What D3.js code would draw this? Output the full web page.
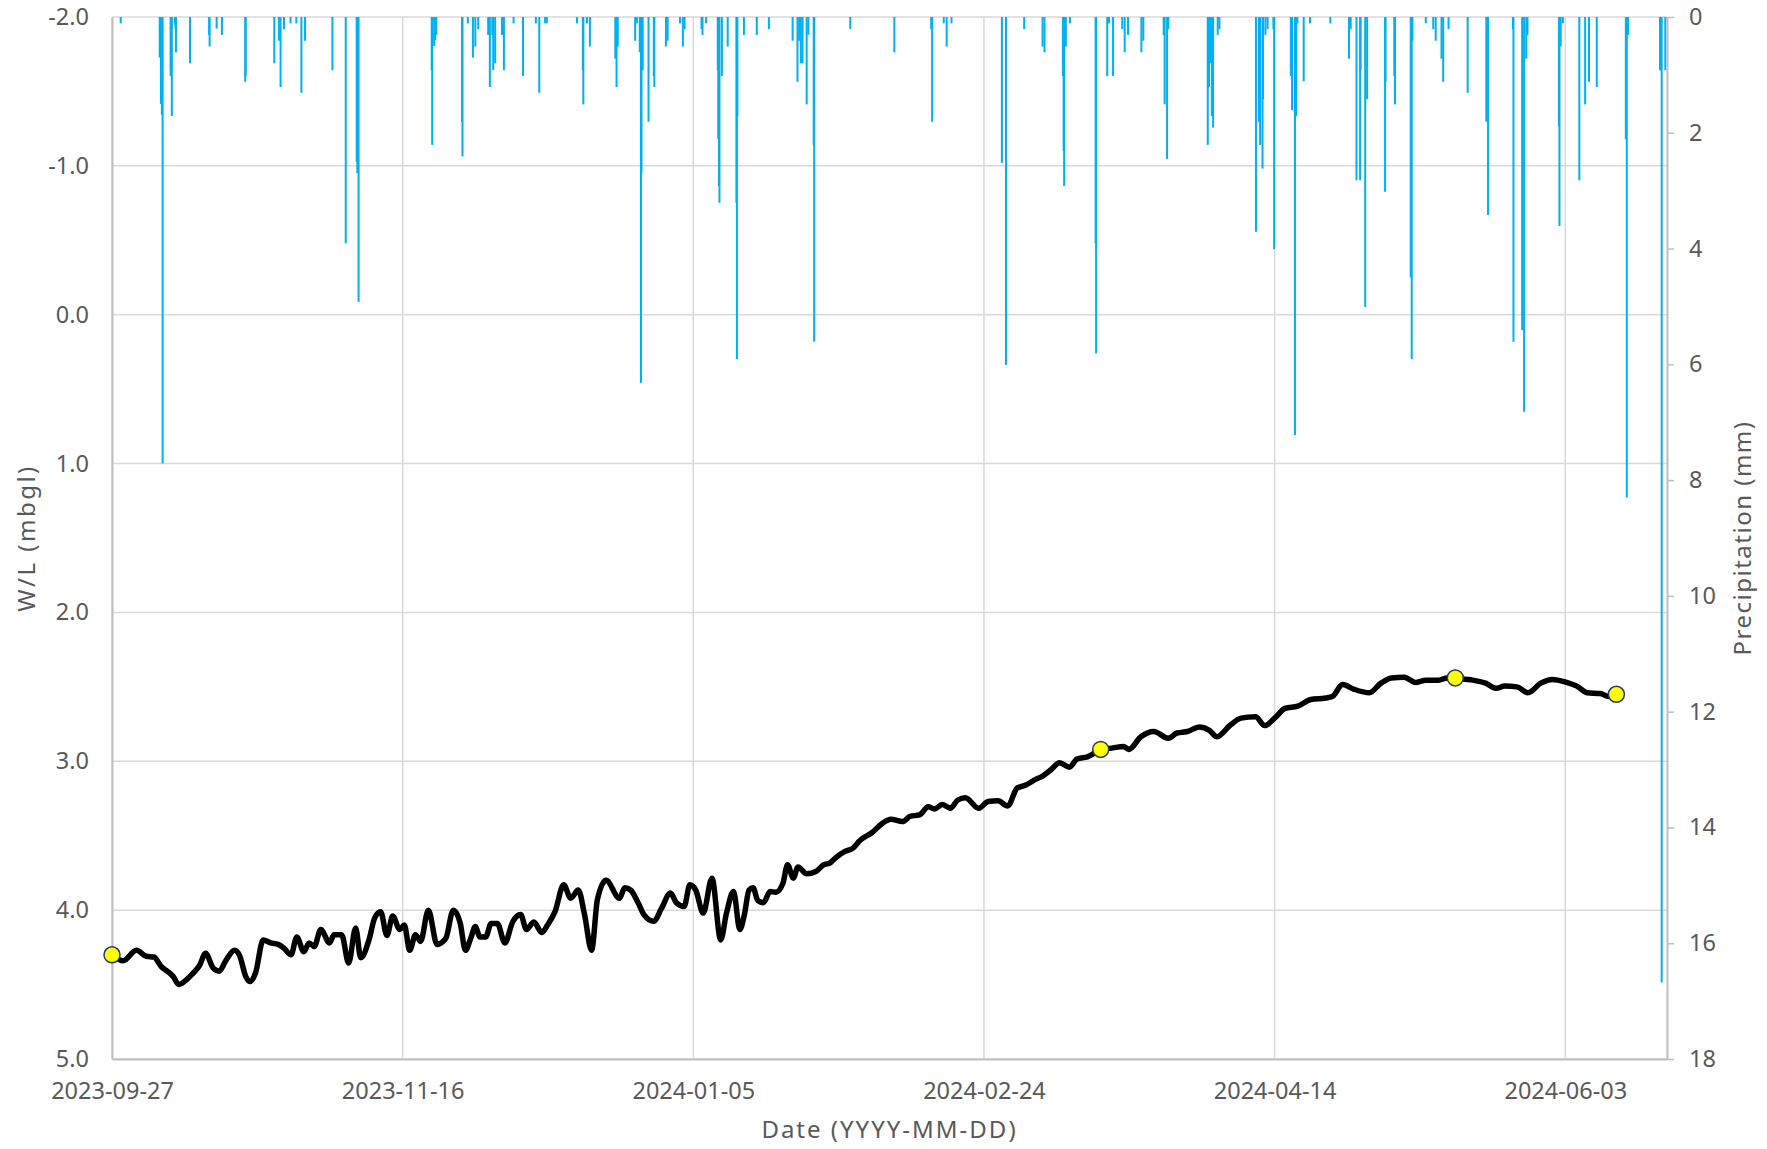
<!DOCTYPE html>
<html>
  <head>
    <meta charset="utf-8">
    <script src="https://cdnjs.cloudflare.com/ajax/libs/d3/7.8.5/d3.min.js"></script>
    <style>
      body { margin: 0; background: #fff; }
      text { font-family: "Noto Sans", sans-serif; fill: #595959; }
    </style>
  </head>
  <body>
    <div id="vis"></div>
    <script type="text/javascript">

        // water level logger (mbgl), sampled off the trace
        const waterLevel = [
          ["2023-09-27T00", 4.30], ["2023-09-28T22", 4.34], ["2023-10-01T05", 4.27], ["2023-10-02T22", 4.31],
          ["2023-10-04T05", 4.315], ["2023-10-05T12", 4.38], ["2023-10-06T12", 4.41], ["2023-10-07T12", 4.445],
          ["2023-10-08T12", 4.50], ["2023-10-09T02", 4.49], ["2023-10-10T19", 4.43], ["2023-10-12T02", 4.37],
          ["2023-10-13T02", 4.29], ["2023-10-14T10", 4.39], ["2023-10-15T10", 4.41], ["2023-10-16T17", 4.33],
          ["2023-10-18T02", 4.27], ["2023-10-19T00", 4.31], ["2023-10-20T00", 4.445], ["2023-10-20T19", 4.48],
          ["2023-10-21T17", 4.42], ["2023-10-23T00", 4.20], ["2023-10-24T07", 4.22], ["2023-10-25T14", 4.23],
          ["2023-10-26T14", 4.255], ["2023-10-27T19", 4.30], ["2023-10-28T19", 4.18], ["2023-10-30T00", 4.28],
          ["2023-10-30T22", 4.22], ["2023-10-31T19", 4.245], ["2023-11-01T22", 4.13], ["2023-11-03T10", 4.22],
          ["2023-11-04T05", 4.165], ["2023-11-05T12", 4.165], ["2023-11-06T17", 4.355], ["2023-11-07T22", 4.12],
          ["2023-11-08T19", 4.32], ["2023-11-10T05", 4.20], ["2023-11-11T05", 4.05], ["2023-11-12T05", 4.01],
          ["2023-11-13T07", 4.17], ["2023-11-14T07", 4.04], ["2023-11-15T12", 4.13], ["2023-11-16T07", 4.10],
          ["2023-11-17T05", 4.27], ["2023-11-18T05", 4.165], ["2023-11-19T02", 4.21], ["2023-11-20T10", 4.00],
          ["2023-11-21T22", 4.23], ["2023-11-23T10", 4.19], ["2023-11-24T17", 4.00], ["2023-11-25T22", 4.09],
          ["2023-11-26T19", 4.27], ["2023-11-27T17", 4.19], ["2023-11-28T12", 4.11], ["2023-11-29T07", 4.18],
          ["2023-11-30T07", 4.18], ["2023-12-01T05", 4.09], ["2023-12-02T07", 4.09], ["2023-12-03T14", 4.22],
          ["2023-12-04T22", 4.08], ["2023-12-06T07", 4.03], ["2023-12-07T07", 4.13], ["2023-12-08T14", 4.08],
          ["2023-12-09T22", 4.15], ["2023-12-10T22", 4.10], ["2023-12-12T05", 4.01], ["2023-12-13T17", 3.83],
          ["2023-12-14T22", 3.92], ["2023-12-16T05", 3.865], ["2023-12-17T07", 4.03], ["2023-12-18T12", 4.27],
          ["2023-12-19T12", 3.93], ["2023-12-21T00", 3.80], ["2023-12-23T07", 3.92], ["2023-12-24T05", 3.85],
          ["2023-12-25T05", 3.865], ["2023-12-26T12", 3.95], ["2023-12-27T12", 4.03], ["2023-12-29T05", 4.075],
          ["2023-12-30T12", 3.99], ["2024-01-01T02", 3.885], ["2024-01-02T02", 3.95], ["2024-01-03T10", 3.975],
          ["2024-01-04T10", 3.83], ["2024-01-05T10", 3.865], ["2024-01-06T17", 4.02], ["2024-01-08T05", 3.785],
          ["2024-01-09T17", 4.20], ["2024-01-10T17", 4.02], ["2024-01-11T22", 3.875], ["2024-01-13T00", 4.13],
          ["2024-01-13T19", 4.03], ["2024-01-14T14", 3.865], ["2024-01-15T07", 3.85], ["2024-01-16T02", 3.935],
          ["2024-01-17T02", 3.95], ["2024-01-18T05", 3.875], ["2024-01-19T05", 3.88], ["2024-01-20T10", 3.82],
          ["2024-01-21T05", 3.695], ["2024-01-22T05", 3.785], ["2024-01-23T00", 3.71], ["2024-01-24T12", 3.755],
          ["2024-01-26T02", 3.74], ["2024-01-27T10", 3.695], ["2024-01-28T10", 3.685], ["2024-01-29T10", 3.65],
          ["2024-01-31T02", 3.605], ["2024-02-01T10", 3.585], ["2024-02-02T17", 3.53], ["2024-02-04T17", 3.48],
          ["2024-02-06T14", 3.415], ["2024-02-08T00", 3.39], ["2024-02-10T00", 3.405], ["2024-02-11T07", 3.37],
          ["2024-02-12T22", 3.36], ["2024-02-14T10", 3.305], ["2024-02-15T12", 3.32], ["2024-02-16T19", 3.29],
          ["2024-02-18T05", 3.315], ["2024-02-19T12", 3.26], ["2024-02-20T19", 3.245], ["2024-02-23T02", 3.315],
          ["2024-02-24T17", 3.27], ["2024-02-26T10", 3.265], ["2024-02-28T02", 3.30], ["2024-02-29T17", 3.18],
          ["2024-03-02T05", 3.16], ["2024-03-03T17", 3.125], ["2024-03-05T02", 3.10], ["2024-03-06T14", 3.055],
          ["2024-03-08T00", 3.01], ["2024-03-09T17", 3.04], ["2024-03-11T00", 2.985], ["2024-03-12T19", 2.97],
          ["2024-03-15T02", 2.925], ["2024-03-17T05", 2.91], ["2024-03-19T00", 2.90], ["2024-03-19T22", 2.92],
          ["2024-03-22T00", 2.835], ["2024-03-24T05", 2.80], ["2024-03-26T17", 2.845], ["2024-03-28T05", 2.81],
          ["2024-03-30T00", 2.80], ["2024-04-01T02", 2.77], ["2024-04-02T17", 2.79], ["2024-04-04T02", 2.835],
          ["2024-04-06T07", 2.76], ["2024-04-08T05", 2.71], ["2024-04-10T17", 2.70], ["2024-04-12T07", 2.76],
          ["2024-04-14T00", 2.71], ["2024-04-15T19", 2.645], ["2024-04-18T00", 2.63], ["2024-04-20T05", 2.585],
          ["2024-04-22T19", 2.575], ["2024-04-23T22", 2.565], ["2024-04-25T17", 2.485], ["2024-04-27T14", 2.515],
          ["2024-04-30T07", 2.54], ["2024-05-02T07", 2.475], ["2024-05-04T02", 2.44], ["2024-05-06T07", 2.435],
          ["2024-05-08T05", 2.47], ["2024-05-10T00", 2.455], ["2024-05-12T05", 2.455], ["2024-05-13T17", 2.44],
          ["2024-05-15T02", 2.445], ["2024-05-18T02", 2.455], ["2024-05-20T07", 2.475], ["2024-05-22T02", 2.51],
          ["2024-05-23T14", 2.495], ["2024-05-25T17", 2.50], ["2024-05-27T14", 2.54], ["2024-05-29T19", 2.475],
          ["2024-05-31T19", 2.45], ["2024-06-03T05", 2.47], ["2024-06-05T00", 2.495], ["2024-06-06T19", 2.54],
          ["2024-06-09T00", 2.545], ["2024-06-10T12", 2.565], ["2024-06-11T19", 2.55]
        ];

        // manual dip readings
        const manualDips = [
          ["2023-09-27T00", 4.30], ["2024-03-15T02", 2.92], ["2024-05-15T02", 2.44], ["2024-06-11T19", 2.55]
        ];

        // hourly rainfall (mm)
        const rainfall = [
          ["2023-09-28T12", 0.11], ["2023-10-05T05", 0.70], ["2023-10-05T10", 1.50], ["2023-10-05T14", 1.69],
          ["2023-10-05T17", 7.71], ["2023-10-07T02", 1.02], ["2023-10-07T07", 1.71], ["2023-10-07T19", 0.11],
          ["2023-10-07T22", 0.20], ["2023-10-08T00", 0.61], ["2023-10-10T10", 0.80], ["2023-10-13T17", 0.31],
          ["2023-10-13T19", 0.51], ["2023-10-15T00", 0.20], ["2023-10-15T22", 0.31], ["2023-10-19T22", 1.12],
          ["2023-10-20T00", 1.02], ["2023-10-24T22", 0.80], ["2023-10-25T17", 0.41], ["2023-10-26T00", 1.21],
          ["2023-10-26T14", 0.21], ["2023-10-27T17", 0.11], ["2023-10-28T17", 0.11], ["2023-10-29T14", 1.31],
          ["2023-10-30T05", 0.41], ["2023-11-03T22", 0.92], ["2023-11-06T05", 3.91], ["2023-11-08T02", 2.50],
          ["2023-11-08T05", 2.70], ["2023-11-08T10", 4.92], ["2023-11-21T00", 0.92], ["2023-11-21T02", 2.21],
          ["2023-11-21T10", 0.50], ["2023-11-21T14", 0.40], ["2023-11-21T19", 0.31], ["2023-11-26T05", 1.81],
          ["2023-11-26T07", 2.41], ["2023-11-27T05", 0.11], ["2023-11-28T02", 0.70], ["2023-11-28T12", 0.51],
          ["2023-11-29T00", 0.21], ["2023-11-30T17", 0.31], ["2023-12-01T00", 1.21], ["2023-12-01T10", 0.31],
          ["2023-12-01T14", 0.92], ["2023-12-01T22", 0.80], ["2023-12-03T02", 0.31], ["2023-12-03T10", 0.92],
          ["2023-12-05T02", 0.11], ["2023-12-06T17", 1.02], ["2023-12-08T22", 0.11], ["2023-12-09T12", 1.31],
          ["2023-12-10T12", 0.11], ["2023-12-10T19", 0.11], ["2023-12-16T00", 0.11], ["2023-12-17T00", 0.92],
          ["2023-12-17T02", 1.51], ["2023-12-17T17", 0.11], ["2023-12-18T05", 0.51], ["2023-12-22T14", 0.72],
          ["2023-12-22T19", 1.21], ["2023-12-23T00", 0.51], ["2023-12-26T00", 0.41], ["2023-12-26T07", 0.11],
          ["2023-12-26T19", 0.61], ["2023-12-27T00", 6.32], ["2023-12-27T02", 2.70], ["2023-12-27T07", 0.92],
          ["2023-12-28T07", 1.81], ["2023-12-29T05", 1.02], ["2023-12-29T07", 1.21], ["2023-12-31T07", 0.51],
          ["2023-12-31T14", 0.41], ["2024-01-02T17", 0.11], ["2024-01-03T05", 0.51], ["2024-01-03T12", 0.21],
          ["2024-01-06T10", 0.21], ["2024-01-06T14", 0.31], ["2024-01-07T05", 0.11], ["2024-01-09T05", 0.92],
          ["2024-01-09T07", 2.11], ["2024-01-09T10", 2.92], ["2024-01-09T12", 3.21], ["2024-01-09T22", 1.02],
          ["2024-01-10T22", 0.51], ["2024-01-12T10", 3.21], ["2024-01-12T12", 5.91], ["2024-01-12T14", 1.71],
          ["2024-01-13T17", 0.31], ["2024-01-15T22", 0.31], ["2024-01-18T00", 0.21], ["2024-01-22T02", 0.41],
          ["2024-01-22T22", 1.12], ["2024-01-23T05", 0.41], ["2024-01-23T12", 0.80], ["2024-01-23T19", 0.80],
          ["2024-01-24T12", 1.51], ["2024-01-24T19", 0.31], ["2024-01-25T17", 2.21], ["2024-01-25T19", 5.61],
          ["2024-02-01T00", 0.21], ["2024-02-08T14", 0.61], ["2024-02-14T22", 0.21], ["2024-02-15T02", 1.81],
          ["2024-02-17T02", 0.11], ["2024-02-17T14", 0.51], ["2024-02-18T10", 0.11], ["2024-02-27T02", 2.52],
          ["2024-02-27T19", 6.01], ["2024-03-01T22", 0.21], ["2024-03-05T02", 0.51], ["2024-03-05T10", 0.61],
          ["2024-03-08T14", 1.02], ["2024-03-08T17", 2.31], ["2024-03-08T19", 2.92], ["2024-03-09T02", 0.51],
          ["2024-03-09T19", 0.11], ["2024-03-14T05", 3.91], ["2024-03-14T07", 5.81], ["2024-03-16T05", 1.02],
          ["2024-03-16T12", 0.11], ["2024-03-17T05", 1.02], ["2024-03-18T19", 0.21], ["2024-03-19T05", 0.61],
          ["2024-03-19T19", 0.31], ["2024-03-22T02", 0.61], ["2024-03-22T10", 0.41], ["2024-03-25T22", 0.31],
          ["2024-03-26T02", 1.51], ["2024-03-26T12", 2.45], ["2024-03-26T17", 0.21], ["2024-04-02T12", 2.21],
          ["2024-04-02T17", 1.21], ["2024-04-02T22", 0.80], ["2024-04-03T05", 1.71], ["2024-04-03T10", 1.91],
          ["2024-04-04T05", 0.31], ["2024-04-04T12", 0.21], ["2024-04-10T19", 3.71], ["2024-04-11T07", 1.81],
          ["2024-04-11T12", 2.21], ["2024-04-11T22", 2.62], ["2024-04-12T00", 1.42], ["2024-04-12T10", 0.31],
          ["2024-04-12T19", 0.21], ["2024-04-13T19", 0.21], ["2024-04-13T22", 4.01], ["2024-04-16T19", 1.02],
          ["2024-04-17T00", 1.61], ["2024-04-17T12", 7.22], ["2024-04-17T17", 1.71], ["2024-04-17T22", 0.11],
          ["2024-04-19T00", 1.11], ["2024-04-20T02", 0.11], ["2024-04-23T14", 0.11], ["2024-04-26T19", 0.72],
          ["2024-04-27T02", 0.21], ["2024-04-28T02", 2.82], ["2024-04-28T17", 2.82], ["2024-04-28T19", 0.92],
          ["2024-04-29T14", 5.01], ["2024-04-29T22", 1.42], ["2024-05-03T00", 3.02], ["2024-05-03T02", 1.12],
          ["2024-05-04T14", 1.02], ["2024-05-04T17", 1.51], ["2024-05-07T10", 4.50], ["2024-05-07T14", 5.91],
          ["2024-05-07T17", 0.41], ["2024-05-10T00", 0.11], ["2024-05-11T07", 0.21], ["2024-05-11T17", 0.41],
          ["2024-05-12T17", 0.72], ["2024-05-13T00", 1.12], ["2024-05-13T22", 0.21], ["2024-05-17T05", 1.31],
          ["2024-05-20T10", 1.81], ["2024-05-20T17", 3.42], ["2024-05-25T00", 0.21], ["2024-05-25T02", 5.61],
          ["2024-05-26T14", 5.41], ["2024-05-26T22", 6.82], ["2024-05-27T07", 0.72], ["2024-05-27T12", 0.31],
          ["2024-06-01T22", 1.89], ["2024-06-02T00", 3.61], ["2024-06-02T05", 0.51], ["2024-06-02T14", 0.11],
          ["2024-06-05T10", 2.82], ["2024-06-06T10", 1.51], ["2024-06-07T02", 1.12], ["2024-06-08T10", 1.21],
          ["2024-06-13T10", 2.11], ["2024-06-13T14", 8.30], ["2024-06-13T19", 0.31], ["2024-06-19T07", 0.92],
          ["2024-06-19T14", 16.68], ["2024-06-20T05", 0.92]
        ];

        const dateTicks = ["2023-09-27", "2023-11-16", "2024-01-05", "2024-02-24", "2024-04-14", "2024-06-03"];
        const wlTicks = [-2, -1, 0, 1, 2, 3, 4, 5];
        const rainTicks = [0, 2, 4, 6, 8, 10, 12, 14, 16, 18];
        const dateRange = ["2023-09-27T00", "2024-06-20T12"];

        const W = 1767, H = 1149;
        const margin = {top: 17, right: 100, bottom: 90, left: 112};
        const iw = W - margin.left - margin.right;
        const ih = H - margin.top - margin.bottom;

        const parseT = d3.utcParse("%Y-%m-%dT%H");
        const parseD = d3.utcParse("%Y-%m-%d");

        const svg = d3.select("#vis")
            .append("svg")
            .attr("width", W)
            .attr("height", H);

        const g = svg.append("g")
            .attr("transform", `translate(${margin.left},${margin.top})`);

        const x = d3.scaleUtc()
            .domain(dateRange.map(parseT))
            .range([0, iw]);
        const y = d3.scaleLinear().domain([-2, 5]).range([0, ih]);
        const yR = d3.scaleLinear().domain([0, 18]).range([0, ih]);

        // grid
        g.append("g")
            .selectAll("line")
            .data(wlTicks)
            .join("line")
            .attr("x1", 0).attr("x2", iw)
            .attr("y1", d => y(d)).attr("y2", d => y(d))
            .attr("stroke", "#d9d9d9").attr("stroke-width", 1.5);
        g.append("g")
            .selectAll("line")
            .data(dateTicks.map(parseD))
            .join("line")
            .attr("x1", d => x(d)).attr("x2", d => x(d))
            .attr("y1", 0).attr("y2", ih)
            .attr("stroke", "#d9d9d9").attr("stroke-width", 1.5);

        // rain bars hanging from the top
        g.append("g")
            .selectAll("rect")
            .data(rainfall)
            .join("rect")
            .attr("x", d => x(parseT(d[0])) - 1)
            .attr("y", 0)
            .attr("width", 2)
            .attr("height", d => yR(d[1]))
            .attr("fill", "#00b0f0");

        // axes
        const styleAxis = sel => {
            sel.select(".domain").attr("stroke", "#bfbfbf").attr("stroke-width", 2);
            sel.selectAll(".tick line").attr("stroke", "#bfbfbf").attr("stroke-width", 1.5);
            sel.selectAll("text").style("font-size", "23.5px").attr("fill", "#595959");
        };

        g.append("g")
            .call(d3.axisLeft(y).tickValues(wlTicks).tickSize(0).tickPadding(23).tickFormat(d => d.toFixed(1)))
            .call(styleAxis);

        g.append("g")
            .attr("transform", `translate(${iw},0)`)
            .call(d3.axisRight(yR).tickValues(rainTicks).tickSizeInner(7).tickSizeOuter(0).tickPadding(15))
            .call(styleAxis);

        g.append("g")
            .attr("transform", `translate(0,${ih})`)
            .call(d3.axisBottom(x).tickValues(dateTicks.map(parseD)).tickSize(0).tickPadding(23)
                .tickFormat(d3.utcFormat("%Y-%m-%d")))
            .call(styleAxis);

        // water level trace
        const line = d3.line()
            .x(d => x(parseT(d[0])))
            .y(d => y(d[1]))
            .curve(d3.curveMonotoneX);

        g.append("path")
            .datum(waterLevel)
            .attr("d", line)
            .attr("fill", "none")
            .attr("stroke", "#000")
            .attr("stroke-width", 5.5)
            .attr("stroke-linejoin", "round")
            .attr("stroke-linecap", "round");

        g.append("g")
            .selectAll("circle")
            .data(manualDips)
            .join("circle")
            .attr("cx", d => x(parseT(d[0])))
            .attr("cy", d => y(d[1]))
            .attr("r", 8)
            .attr("fill", "#ffff00")
            .attr("stroke", "#1f3864")
            .attr("stroke-width", 1.5);

        // titles
        svg.append("text")
            .attr("x", margin.left + iw / 2)
            .attr("y", 1138)
            .attr("text-anchor", "middle")
            .style("font-size", "24px")
            .style("letter-spacing", "2px")
            .text("Date (YYYY-MM-DD)");

        svg.append("text")
            .attr("transform", `translate(35,${margin.top + ih / 2}) rotate(-90)`)
            .attr("text-anchor", "middle")
            .style("font-size", "24px")
            .style("letter-spacing", "2.5px")
            .text("W/L (mbgl)");

        svg.append("text")
            .attr("transform", `translate(1751,${margin.top + ih / 2}) rotate(-90)`)
            .attr("text-anchor", "middle")
            .style("font-size", "24px")
            .style("letter-spacing", "1.5px")
            .text("Precipitation (mm)");

    </script>
  </body>
</html>
